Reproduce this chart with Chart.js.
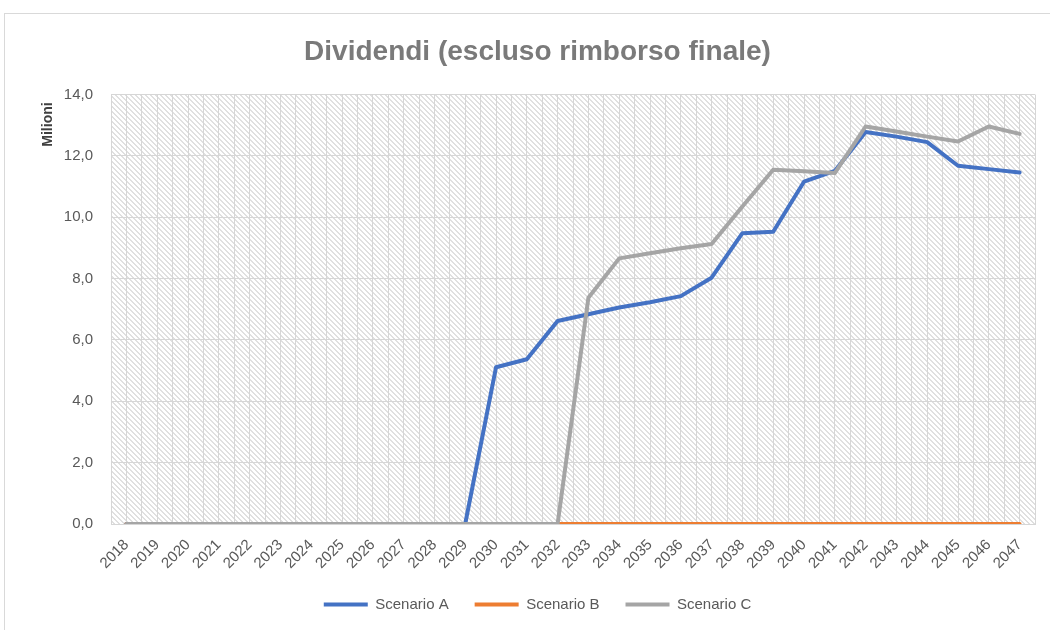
<!DOCTYPE html>
<html lang="it">
<head>
<meta charset="UTF-8">
<title>Dividendi</title>
<script src="https://cdn.jsdelivr.net/npm/chart.js"></script>
<style>
  body { margin: 0; background: #fff; overflow: hidden; }
  #cornice { position: absolute; left: 4px; top: 13px; width: 1100px; height: 700px; border: 1px solid #d9d9d9; }
  #wrap { position: absolute; left: 0; top: 0; width: 1050px; height: 630px; }
</style>
</head>
<body>
<div id="cornice"></div>
<div id="wrap"><canvas id="dividendi" width="1050" height="630"></canvas></div>
<script>
  const anni = ['2018', '2019', '2020', '2021', '2022', '2023', '2024', '2025', '2026', '2027',
    '2028', '2029', '2030', '2031', '2032', '2033', '2034', '2035', '2036', '2037',
    '2038', '2039', '2040', '2041', '2042', '2043', '2044', '2045', '2046', '2047'];

  // milioni di euro
  const scenarioA = [0, 0, 0, 0, 0, 0, 0, 0, 0, 0, 0, 0,
    5.11, 5.37, 6.62, 6.84, 7.06, 7.23, 7.43, 8.03, 9.48, 9.53,
    11.16, 11.51, 12.78, 12.63, 12.45, 11.68, 11.57, 11.46];
  const scenarioB = [0, 0, 0, 0, 0, 0, 0, 0, 0, 0, 0, 0, 0, 0, 0,
    0, 0, 0, 0, 0, 0, 0, 0, 0, 0, 0, 0, 0, 0, 0];
  const scenarioC = [0, 0, 0, 0, 0, 0, 0, 0, 0, 0, 0, 0, 0, 0, 0,
    7.38, 8.66, 8.83, 8.99, 9.13, 10.35, 11.55, 11.5, 11.44,
    12.96, 12.8, 12.63, 12.47, 12.96, 12.72];

  const FONT = "'Liberation Sans Narrow', 'Arial Narrow', 'Liberation Sans', Arial, sans-serif";
  Chart.defaults.font.family = FONT;
  Chart.defaults.color = '#595959';

  // tratteggio diagonale dello sfondo del grafico
  function trama(ctx) {
    const c = document.createElement('canvas');
    c.width = 5; c.height = 5;
    const g = c.getContext('2d');
    g.fillStyle = '#ffffff';
    g.fillRect(0, 0, 5, 5);
    g.fillStyle = '#e0e0e0';
    for (let y = 0; y < 5; y++) {
      for (let x = 0; x < 5; x++) {
        if (((x - y) % 5 + 5) % 5 < 2) g.fillRect(x, y, 1, 1);
      }
    }
    return ctx.createPattern(c, 'repeat');
  }

  const sfondo = {
    id: 'sfondo',
    beforeDraw(chart) {
      const { ctx, chartArea: a } = chart;
      ctx.save();
      ctx.fillStyle = trama(ctx);
      ctx.fillRect(a.left, a.top, a.right - a.left, a.bottom - a.top);
      ctx.restore();
    }
  };

  const grigliaColore = '#d6d6d6';

  new Chart(document.getElementById('dividendi').getContext('2d'), {
    type: 'line',
    data: {
      labels: anni,
      datasets: [
        { label: 'Scenario A', data: scenarioA, borderColor: '#4472C4', backgroundColor: '#4472C4', order: 3 },
        { label: 'Scenario B', data: scenarioB, borderColor: '#ED7D31', backgroundColor: '#ED7D31', order: 2 },
        { label: 'Scenario C', data: scenarioC, borderColor: '#A5A5A5', backgroundColor: '#A5A5A5', order: 1 }
      ]
    },
    options: {
      responsive: false,
      animation: false,
      layout: { padding: { top: 0, right: 15, bottom: 8, left: 40 } },
      elements: {
        line: { borderWidth: 4, tension: 0, borderJoinStyle: 'round', borderCapStyle: 'round', fill: false },
        point: { radius: 0 }
      },
      plugins: {
        tooltip: { enabled: false },
        title: {
          display: true,
          text: 'Dividendi (escluso rimborso finale)',
          color: '#7a7a7a',
          font: { size: 28, weight: 'bold' },
          padding: { top: 35, bottom: 26 }
        },
        legend: {
          position: 'bottom',
          labels: {
            boxWidth: 44,
            boxHeight: 4,
            padding: 26,
            color: '#595959',
            font: { size: 15 },
            generateLabels: (chart) => Chart.defaults.plugins.legend.labels.generateLabels(chart)
              .map((l) => ({ ...l, lineWidth: 0 })),
            sort: (a, b) => a.datasetIndex - b.datasetIndex
          }
        }
      },
      scales: {
        x: {
          type: 'category',
          offset: true,
          grid: { offset: true, color: grigliaColore, drawTicks: false },
          border: { color: grigliaColore },
          ticks: { autoSkip: false, maxRotation: 45, minRotation: 45, padding: 12, color: '#595959', font: { size: 15 } },
          afterFit(scale) { scale.height = 47; }
        },
        xCentri: {
          type: 'category',
          position: 'bottom',
          labels: anni,
          offset: true,
          grid: { offset: false, color: grigliaColore, drawTicks: false },
          border: { display: false },
          ticks: { display: false },
          afterFit(scale) { scale.height = 0; }
        },
        y: {
          min: 0,
          max: 14,
          grid: { color: grigliaColore, drawTicks: false },
          border: { display: false },
          ticks: {
            stepSize: 2,
            padding: 18,
            color: '#595959',
            font: { size: 15 },
            callback: (v) => v.toFixed(1).replace('.', ',')
          },
          title: {
            display: true,
            text: 'Milioni  ',
            align: 'end',
            color: '#404040',
            font: { size: 14, weight: 'bold' },
            padding: { top: 0, bottom: 0 }
          },
          afterFit(scale) { scale.width = 71; }
        }
      }
    },
    plugins: [sfondo]
  });
</script>
</body>
</html>
